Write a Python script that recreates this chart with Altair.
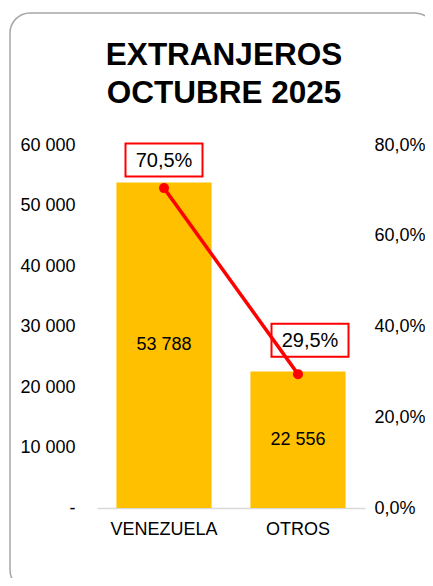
import altair as alt
import pandas as pd

categories = ["VENEZUELA", "OTROS"]
counts = [53788, 22556]
shares = [0.705, 0.295]
left_ticks = [0, 10000, 20000, 30000, 40000, 50000, 60000]
right_ticks = [0.0, 0.2, 0.4, 0.6, 0.8]
title_lines = ["EXTRANJEROS", "OCTUBRE 2025"]

df = pd.DataFrame({"cat": categories, "value": counts, "share": shares})

FONT = "Liberation Sans"
RED = "#FF0000"
GOLD = "#FFC000"

xenc = alt.X(
    "cat:N",
    sort=categories,
    scale=alt.Scale(paddingInner=0.29, paddingOuter=0.145),
    axis=alt.Axis(
        title=None, labelAngle=0, ticks=False, domainColor="#d9d9d9", domainWidth=1.5,
        labelFontSize=18, labelFont=FONT, labelColor="#000000", labelPadding=12,
    ),
)

left_axis = alt.Axis(
    title=None, values=left_ticks, ticks=False, domain=False, grid=False,
    labelFontSize=18, labelFont=FONT, labelColor="#000000", labelPadding=22,
    labelExpr="datum.value == 0 ? '-' : replace(format(datum.value, ',d'), ',', ' ')",
)
left_scale = alt.Scale(domain=[0, 60000], nice=False)

right_axis = alt.Axis(
    title=None, orient="right", values=right_ticks, ticks=False, domain=False, grid=False,
    labelFontSize=18, labelFont=FONT, labelColor="#000000", labelPadding=9,
    labelExpr="replace(format(datum.value, '.1%'), '.', ',')",
)
right_scale = alt.Scale(domain=[0, 0.8], nice=False)

base = alt.Chart(df).encode(x=xenc)
one = alt.Chart(pd.DataFrame({"a": [0]}))

frame = one.mark_rect(
    fillOpacity=0, stroke="#a6a6a6", strokeWidth=1.5, cornerRadius=20
).encode(x=alt.value(-87), x2=alt.value(338), y=alt.value(-132), y2=alt.value(445))

title1 = one.mark_text(
    fontSize=31.5, font=FONT, fontWeight="bold", color="#000000", baseline="alphabetic"
).encode(x=alt.value(127), y=alt.value(-80), text=alt.value(title_lines[0]))
title2 = one.mark_text(
    fontSize=31.5, font=FONT, fontWeight="bold", color="#000000", baseline="alphabetic"
).encode(x=alt.value(127), y=alt.value(-42), text=alt.value(title_lines[1]))

bars = base.mark_bar(color=GOLD).encode(
    y=alt.Y("value:Q", scale=left_scale, axis=left_axis)
)

bar_labels = base.transform_calculate(
    mid="datum.value / 2",
    lbl="replace(format(datum.value, ',d'), ',', ' ')",
).mark_text(fontSize=18, font=FONT, color="#000000").encode(
    y=alt.Y("mid:Q", scale=left_scale, axis=left_axis), text="lbl:N"
)

left = alt.layer(frame, title1, title2, bars, bar_labels)

box_path = "M-1,-0.4286L1,-0.4286L1,0.4286L-1,0.4286Z"
offsets = {"VENEZUELA": (0, -28), "OTROS": (12, -34)}

yshare = alt.Y("share:Q", scale=right_scale, axis=right_axis)

boxes = []
texts = []
for c in categories:
    dx, dy = offsets[c]
    sub = base.transform_filter(alt.datum.cat == c)
    boxes.append(
        sub.mark_point(
            shape=box_path, size=5929, fill="white", fillOpacity=1, stroke=RED,
            strokeWidth=2, strokeOpacity=1, opacity=1, xOffset=dx, yOffset=dy,
        ).encode(y=yshare)
    )
    texts.append(
        sub.transform_calculate(
            plbl="replace(format(datum.share, '.1%'), '.', ',')"
        ).mark_text(fontSize=20, font=FONT, color="#000000", dx=dx, dy=dy + 1).encode(
            y=yshare, text="plbl:N"
        )
    )

line = base.mark_line(color=RED, strokeWidth=3.5).encode(y=yshare)
pts = base.mark_circle(color=RED, size=100, opacity=1).encode(y=yshare)

right = alt.layer(*boxes, line, pts, *texts)

chart = alt.layer(left, right).resolve_scale(y="independent").properties(
    width=268,
    height=363,
    autosize=alt.AutoSizeParams(type="none"),
    padding={"left": 89, "top": 137, "right": 60, "bottom": 70},
).configure_view(stroke=None)

chart.save("out.html", embed_options={"renderer": "svg", "actions": False})
